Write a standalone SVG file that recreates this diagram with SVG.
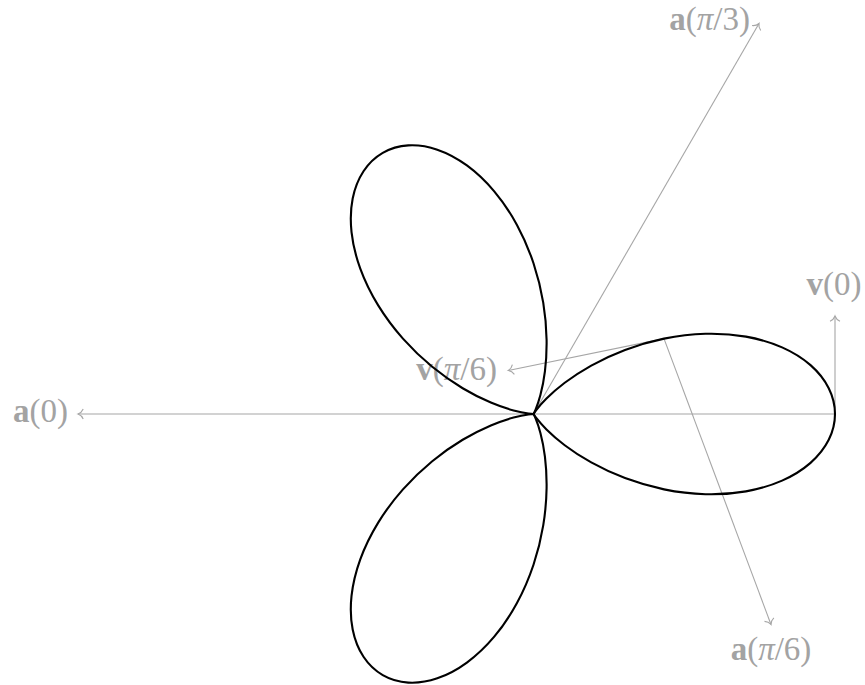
<svg xmlns="http://www.w3.org/2000/svg" xmlns:xlink="http://www.w3.org/1999/xlink" width="865" height="685" viewBox="0 0 865 685">
  <style>
    .vec { stroke: #a6a6a6; stroke-width: 1.1; fill: none; marker-end: url(#to); }
    .lbl { font-family: "Liberation Serif", "Times New Roman", serif; font-size: 33px; fill: #a3a3a3; }
    .b { font-weight: bold; }
    .i { font-style: italic; }
    .curve { stroke: #000; stroke-width: 2.1; fill: none; stroke-linejoin: round; }
  </style>
  <defs>
    <marker id="to" viewBox="-8 -6 10 12" markerWidth="10" markerHeight="12" refX="0" refY="0" orient="auto" markerUnits="userSpaceOnUse" overflow="visible">
      <path d="M-5.2,-5 C-3.9,-2 -1.4,-0.5 0,0 C-1.4,0.5 -3.9,2 -5.2,5" fill="none" stroke="#a6a6a6" stroke-width="1.1"/>
    </marker>
    <path id="petal" d="M0,0 C0,0 0.87,1.5 2.93,4.19 C5,6.88 8.26,10.76 12.92,15.4 C17.57,20.03 23.62,25.43 31.07,31.07 C38.52,36.71 47.37,42.59 57.45,48.21 C67.54,53.83 78.86,59.17 91.07,63.77 C103.28,68.37 116.39,72.23 129.9,75 C143.42,77.77 157.35,79.44 171.13,79.8 C184.91,80.17 198.54,79.23 211.43,76.96 C224.32,74.68 236.47,71.07 247.34,66.28 C258.21,61.48 267.79,55.49 275.65,48.61 C283.51,41.72 289.64,33.95 293.77,25.7 C297.89,17.45 300,8.73 300,0 C300,-8.73 297.89,-17.45 293.77,-25.7 C289.64,-33.95 283.51,-41.72 275.65,-48.61 C267.79,-55.49 258.21,-61.48 247.34,-66.28 C236.47,-71.07 224.32,-74.68 211.43,-76.96 C198.54,-79.23 184.91,-80.17 171.13,-79.8 C157.35,-79.44 143.42,-77.77 129.9,-75 C116.39,-72.23 103.28,-68.37 91.07,-63.77 C78.86,-59.17 67.54,-53.83 57.45,-48.21 C47.37,-42.59 38.52,-36.71 31.07,-31.07 C23.62,-25.43 17.57,-20.03 12.92,-15.4 C8.26,-10.76 5,-6.88 2.93,-4.19 C0.87,-1.5 0,0 0,0 Z"/>
  </defs>

  <g id="connectors">
    <line id="v0" class="vec" x1="835" y1="414" x2="835" y2="316"/>
    <line id="a0" class="vec" x1="835" y1="414" x2="78" y2="414"/>
    <line id="a-pi3" class="vec" x1="533.5" y1="414" x2="759" y2="23.5"/>
    <line id="v-pi6" class="vec" x1="664" y1="338.6" x2="508.3" y2="370.5"/>
    <line id="a-pi6" class="vec" x1="664" y1="338.6" x2="771" y2="624.5"/>
  </g>

  <g id="labels">
    <g id="label-a0"><text class="lbl" x="68" y="422" text-anchor="end"><tspan class="b">a</tspan>(0)</text></g>
    <g id="label-v0"><text class="lbl" x="834" y="295" text-anchor="middle"><tspan class="b">v</tspan>(0)</text></g>
    <g id="label-a-pi3"><text class="lbl" x="750" y="30" text-anchor="end"><tspan class="b">a</tspan>(<tspan class="i">π</tspan>/3)</text></g>
    <g id="label-v-pi6"><text class="lbl" x="497" y="380" text-anchor="end"><tspan class="b">v</tspan>(<tspan class="i">π</tspan>/6)</text></g>
    <g id="label-a-pi6"><text class="lbl" x="771" y="660" text-anchor="middle"><tspan class="b">a</tspan>(<tspan class="i">π</tspan>/6)</text></g>
  </g>

  <g id="curve" transform="translate(533.5,414) scale(1.005)">
    <use xlink:href="#petal" href="#petal" class="curve"/>
    <use xlink:href="#petal" href="#petal" class="curve" transform="rotate(-120)"/>
    <use xlink:href="#petal" href="#petal" class="curve" transform="rotate(120)"/>
  </g>
</svg>
